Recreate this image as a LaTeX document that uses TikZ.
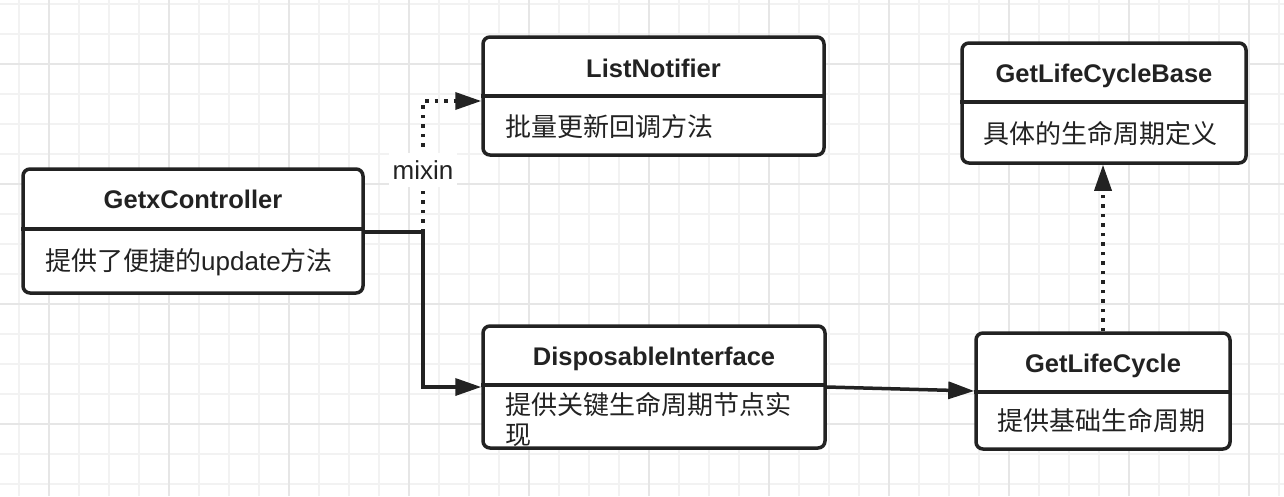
\documentclass[tikz,border=0pt]{standalone}
\usepackage{fontspec}
\setmainfont{Liberation Sans}
\newfontfamily\cjk{Noto Sans CJK SC}
\usetikzlibrary{arrows.meta}
\definecolor{ink}{HTML}{222222}
\definecolor{gridminor}{HTML}{F2F2F2}
\definecolor{gridmajor}{HTML}{E6E6E6}
\begin{document}
\begin{tikzpicture}[x=1pt,y=-1pt,
 classbox/.style={draw=ink, line width=3.5pt, rounded corners=7pt, fill=white, inner sep=0pt},
 divider/.style={draw=ink, line width=3.5pt},
 titletext/.style={font=\fontsize{25.5}{30}\selectfont\bfseries, text=ink, anchor=base, inner sep=0pt},
 bodytext/.style={font=\fontsize{26}{30}\selectfont\cjk, text=ink, anchor=west, inner sep=0pt, align=left},
 conn/.style={draw=ink, line width=3.5pt, -{Triangle[length=26pt,width=17pt]}},
 dotconn/.style={conn, dash pattern=on 3.5pt off 6pt},
 edgelabel/.style={fill=white, text=ink, font=\fontsize{26}{30}\selectfont, minimum width=68pt, minimum height=34pt, inner sep=0pt},
]
\useasboundingbox (0,0) rectangle (1284,496);
\fill[white] (0,0) rectangle (1284,496);
% grid
\foreach \i in {0,...,42} \draw[gridminor, line width=1.5pt] ({19+30*\i},0) -- ({19+30*\i},496);
\foreach \i in {0,...,16} \draw[gridminor, line width=1.5pt] (0,{4+30*\i}) -- (1284,{4+30*\i});
\foreach \x in {49,169,...,1249} \draw[gridmajor, line width=1.5pt] (\x,0) -- (\x,496);
\foreach \y in {64,184,304,424} \draw[gridmajor, line width=1.5pt] (0,\y) -- (1284,\y);

% boxes
\node[classbox, minimum width=340pt, minimum height=124pt] (gx) at (193,231) {};
\node[classbox, minimum width=341pt, minimum height=118pt] (ln) at (653.5,96) {};
\node[classbox, minimum width=284pt, minimum height=120pt] (lcb) at (1104,103) {};
\node[classbox, minimum width=342pt, minimum height=122pt] (di) at (654,387) {};
\node[classbox, minimum width=254pt, minimum height=116pt] (lc) at (1103,391) {};

% dividers
\coordinate (gxd) at (0,229);
\coordinate (lnd) at (0,96);
\coordinate (lcbd) at (0,102);
\coordinate (did) at (0,385);
\coordinate (lcd) at (0,392);
\draw[divider] (gx.west |- gxd) -- (gx.east |- gxd);
\draw[divider] (ln.west |- lnd) -- (ln.east |- lnd);
\draw[divider] (lcb.west |- lcbd) -- (lcb.east |- lcbd);
\draw[divider] (di.west |- did) -- (di.east |- did);
\draw[divider] (lc.west |- lcd) -- (lc.east |- lcd);

% titles
\node[titletext] (gxt) at (193,208) {GetxController};
\node[titletext] (lnt) at (653.5,77) {ListNotifier};
\node[titletext] (lcbt) at (1104,82) {GetLifeCycleBase};
\node[titletext] (dit) at (654,365) {DisposableInterface};
\node[titletext] (lct) at (1103,372) {GetLifeCycle};

% bodies
\node[bodytext] (gxb) at (45,262) {提供了便捷的{\rmfamily update}方法};
\node[bodytext] (lnb) at (505,127) {批量更新回调方法};
\node[bodytext] (lcbb) at (983,134) {具体的生命周期定义};
\node[bodytext] (dib) at (505,419) {提供关键生命周期节点实\\现};
\node[bodytext] (lcb2) at (997,421) {提供基础生命周期};

% connectors
\coordinate (j) at (423,232);
\draw[conn] (gx.east |- j) -- (j) |- (di.west);
\draw[dotconn] (j) |- ([yshift=-5pt]ln.west) node[edgelabel, pos=0.235] (mx) {mixin};
\draw[conn] (di.east) -- (lc.west);
\draw[dotconn] (lc.north) -- (lc.north |- lcb.south);
\end{tikzpicture}
\end{document}
